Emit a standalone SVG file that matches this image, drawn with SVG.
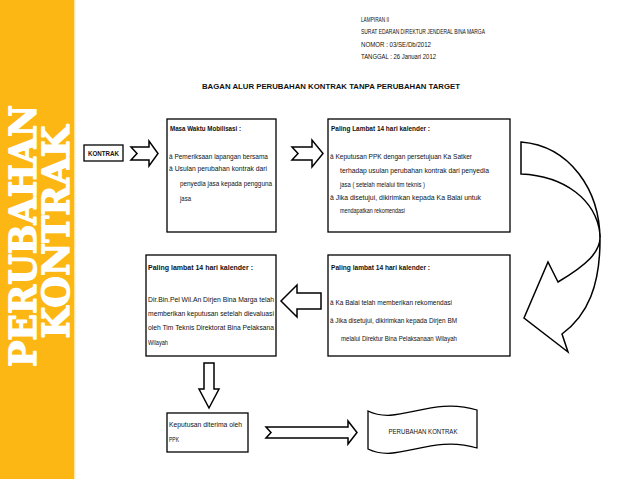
<svg xmlns="http://www.w3.org/2000/svg" width="638" height="479" viewBox="0 0 638 479">
<style>
.t{font-family:"Liberation Sans",Arial,sans-serif;font-size:7.5px;fill:#111}
.b{font-weight:bold}
.box{fill:#fff;stroke:#000;stroke-width:1.3}
.arr{fill:#fff;stroke:#000;stroke-width:1.5;stroke-linejoin:miter}
.side{font-family:"DejaVu Serif",serif;font-weight:bold;font-size:38px;fill:#fff;stroke:#fff;stroke-width:1.4;stroke-linejoin:round}
</style>
<rect x="0" y="0" width="638" height="479" fill="#fff"/>
<g id="sidebar">
<rect x="0" y="0" width="74" height="479" fill="#FDB714"/>
<rect x="74" y="0" width="1.5" height="479" fill="#FFE8A8"/>
<text class="side" transform="translate(36,236) rotate(-90)" text-anchor="middle" textLength="262" lengthAdjust="spacingAndGlyphs">PERUBAHAN</text>
<text class="side" transform="translate(69,232) rotate(-90)" text-anchor="middle" textLength="213" lengthAdjust="spacingAndGlyphs">KONTRAK</text>
</g>
<g id="header">
<text class="t" x="361" y="22" font-size="6.5" textLength="28" lengthAdjust="spacingAndGlyphs">LAMPIRAN II</text>
<text class="t" x="361" y="34" font-size="6.5" textLength="124" lengthAdjust="spacingAndGlyphs">SURAT EDARAN DIREKTUR JENDERAL BINA MARGA</text>
<text class="t" x="361" y="47" font-size="6.5" textLength="70" lengthAdjust="spacingAndGlyphs">NOMOR   :  03/SE/Db/2012</text>
<text class="t" x="361" y="59" font-size="6.5" textLength="75" lengthAdjust="spacingAndGlyphs">TANGGAL :  26 Januari 2012</text>
</g>
<g id="title">
<text class="t b" x="202" y="89" font-size="10" textLength="258" lengthAdjust="spacingAndGlyphs">BAGAN ALUR PERUBAHAN KONTRAK TANPA PERUBAHAN TARGET</text>
</g>
<g id="connectors">
<polygon class="arr" points="131,147 149,147 149,141 158,153.5 149,166 149,160 131,160 137,153.5"/>
<polygon class="arr" points="292,147 312,147 312,140 323,153.5 312,167 312,160 292,160 298,153.5"/>
<path class="arr" d="M521,142 C570,146 600,190 600,240 C600,285 588,315 562,334 L568,352 L524,318 L548,262 L558,282 C585,266 602,252 600,234 C596,200 565,176 521,174 Z"/>
<polygon class="arr" points="321,293 297,293 297,285 281,301 297,317 297,309 321,309"/>
<polygon class="arr" points="204,363 214,363 214,389 219,389 209,408 199,389 204,389"/>
<polygon class="arr" points="266,427 348,427 348,421 357,432.5 348,444 348,438 266,438 271,432.5"/>
</g>
<g id="node-kontrak">
<rect class="box" x="84" y="145" width="39" height="16"/>
<text class="t b" x="88" y="156" textLength="31" lengthAdjust="spacingAndGlyphs">KONTRAK</text>
</g>
<g id="node-mobilisasi">
<rect class="box" x="167" y="119" width="109" height="113"/>
<text class="t b" x="170" y="131" textLength="71" lengthAdjust="spacingAndGlyphs">Masa Waktu Mobilisasi :</text>
<text class="t" x="169" y="159" textLength="99" lengthAdjust="spacingAndGlyphs">â Pemeriksaan lapangan bersama</text>
<text class="t" x="169" y="171" textLength="98" lengthAdjust="spacingAndGlyphs">â Usulan perubahan kontrak dari</text>
<text class="t" x="180" y="186" textLength="92" lengthAdjust="spacingAndGlyphs">penyedia jasa kepada pengguna</text>
<text class="t" x="180" y="201" textLength="11" lengthAdjust="spacingAndGlyphs">jasa</text>
</g>
<g id="node-ppk-satker">
<rect class="box" x="328" y="119" width="182" height="113"/>
<text class="t b" x="331" y="131" textLength="99" lengthAdjust="spacingAndGlyphs">Paling Lambat 14 hari kalender  :</text>
<text class="t" x="330" y="159" textLength="142" lengthAdjust="spacingAndGlyphs">â Keputusan PPK dengan persetujuan Ka Satker</text>
<text class="t" x="340" y="173" textLength="149" lengthAdjust="spacingAndGlyphs">terhadap usulan perubahan kontrak dari penyedia</text>
<text class="t" x="340" y="187" textLength="85" lengthAdjust="spacingAndGlyphs">jasa ( setelah melalui tim teknis )</text>
<text class="t" x="330" y="200" textLength="151" lengthAdjust="spacingAndGlyphs">â Jika disetujui, dikirimkan kepada Ka Balai untuk</text>
<text class="t" x="340" y="213" textLength="65" lengthAdjust="spacingAndGlyphs">mendapatkan rekomendasi</text>
</g>
<g id="node-balai">
<rect class="box" x="328" y="255" width="182" height="101"/>
<text class="t b" x="331" y="270" textLength="99" lengthAdjust="spacingAndGlyphs">Paling lambat 14 hari kalender :</text>
<text class="t" x="330" y="305" textLength="122" lengthAdjust="spacingAndGlyphs">â Ka Balai telah memberikan rekomendasi</text>
<text class="t" x="330" y="323" textLength="127" lengthAdjust="spacingAndGlyphs">â Jika disetujui, dikirimkan kepada Dirjen BM</text>
<text class="t" x="341" y="341" textLength="116" lengthAdjust="spacingAndGlyphs">melalui Direktur Bina Pelaksanaan Wilayah</text>
</g>
<g id="node-dirbinpel">
<rect class="box" x="146" y="255" width="130" height="101"/>
<text class="t b" x="148" y="270" textLength="105" lengthAdjust="spacingAndGlyphs">Paling lambat 14 hari kalender :</text>
<text class="t" x="148" y="302" textLength="126" lengthAdjust="spacingAndGlyphs">Dir.Bin.Pel Wil.An Dirjen Bina Marga telah</text>
<text class="t" x="148" y="316" textLength="126" lengthAdjust="spacingAndGlyphs">memberikan keputusan setelah dievaluasi</text>
<text class="t" x="148" y="330" textLength="126" lengthAdjust="spacingAndGlyphs">oleh Tim Teknis Direktorat Bina Pelaksana</text>
<text class="t" x="148" y="345" textLength="20" lengthAdjust="spacingAndGlyphs">Wilayah</text>
</g>
<g id="node-keputusan">
<rect class="box" x="167" y="413" width="81" height="39"/>
<text class="t" x="169" y="427" textLength="73" lengthAdjust="spacingAndGlyphs">Keputusan diterima oleh</text>
<text class="t" x="169" y="442" textLength="10" lengthAdjust="spacingAndGlyphs">PPK</text>
</g>
<g id="node-perubahan">
<path class="box" d="M368,411 C398,426 430,396 477,410 L477,448 C430,434 398,464 368,449 Z"/>
<text class="t" x="423" y="434" text-anchor="middle" textLength="69" lengthAdjust="spacingAndGlyphs">PERUBAHAN KONTRAK</text>
</g>
</svg>
